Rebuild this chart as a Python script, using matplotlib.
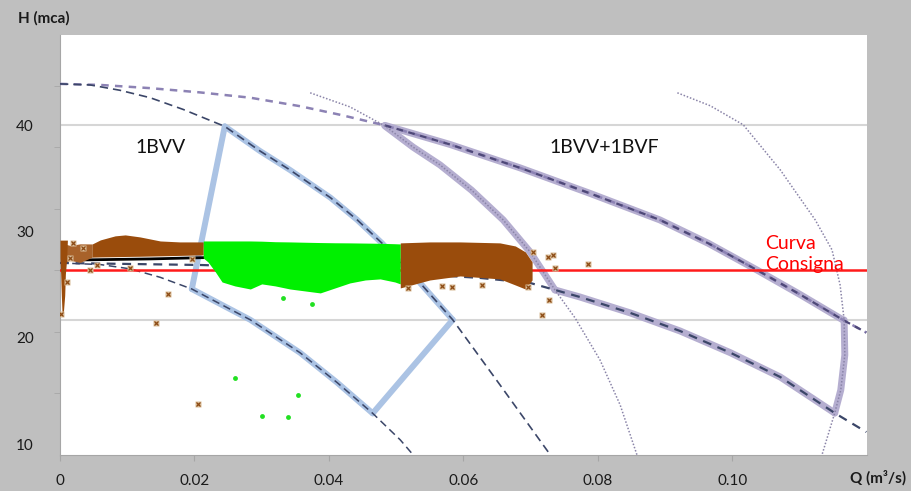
import matplotlib
matplotlib.use("Agg")
import matplotlib.pyplot as plt
import numpy as np

plt.rcParams['font.family'] = ['Lato', 'DejaVu Sans']

# ---------------- axes / ticks ----------------
x_ticks = [0, 0.02, 0.04, 0.06, 0.08, 0.10]
x_tick_labels = ["0", "0.02", "0.04", "0.06", "0.08", "0.10"]
y_ticks = [10, 20, 30, 40]
y_tick_labels = ["10", "20", "30", "40"]
y_minor_ticks = [43.73, 37.98, 32.14, 26.41, 20.57, 14.83]
h_limit_lines = [40.0, 21.7]

# ---------------- pump curves ----------------
# 1BVV at maximum speed
q_1bvv_max = [0.0, 0.0045, 0.0089, 0.0134, 0.0183, 0.0245, 0.0297, 0.0342, 0.0402, 0.0442, 0.0479, 0.0513, 0.0535, 0.0584, 0.0654, 0.0729]
h_1bvv_max = [43.9, 43.8, 43.3, 42.6, 41.5, 39.9, 37.6, 35.8, 33.2, 31.1, 28.9, 26.6, 25.2, 21.7, 15.6, 9.0]
# 1BVV at minimum speed
q_1bvv_min = [0.0, 0.006, 0.0104, 0.0149, 0.0196, 0.0283, 0.0357, 0.0412, 0.0465, 0.0506, 0.0525]
h_1bvv_min = [27.05, 26.9, 26.5, 25.7, 24.6, 21.7, 18.6, 15.8, 12.9, 10.4, 9.0]
# 1BVV+1BVF at maximum speed
q_2b_max = [0.0, 0.006, 0.0134, 0.0208, 0.0283, 0.0357, 0.0416, 0.0483, 0.058, 0.0684, 0.0788, 0.0892, 0.0964, 0.1036, 0.1100, 0.1164, 0.1199]
h_2b_max = [43.9, 43.8, 43.5, 43.1, 42.6, 41.8, 41.0, 40.0, 38.2, 36.0, 33.6, 31.1, 28.9, 26.4, 24.1, 21.7, 20.5]
# 1BVV+1BVF at minimum speed
q_2b_min = [0.0, 0.0208, 0.0357, 0.0506, 0.0625, 0.0699, 0.0736, 0.0773, 0.0848, 0.0922, 0.0997, 0.1071, 0.1152, 0.1199]
h_2b_min = [27.05, 26.86, 26.58, 26.11, 25.64, 25.17, 24.51, 23.85, 22.35, 20.65, 18.6, 16.32, 12.93, 11.14]
# dotted limit arcs
q_arc_left = [0.0372, 0.0431, 0.0483, 0.0525, 0.0565, 0.0612, 0.0659, 0.0699, 0.0736, 0.0766, 0.0803, 0.0833, 0.0858]
h_arc_left = [43.06, 41.74, 39.95, 37.95, 36.28, 33.9, 31.10, 28.09, 24.51, 21.87, 17.92, 13.68, 8.98]
q_arc_right = [0.0918, 0.0967, 0.1016, 0.1071, 0.1123, 0.1148, 0.1160, 0.1166, 0.1167, 0.1161, 0.1152, 0.1133]
h_arc_right = [43.06, 41.84, 40.05, 35.81, 31.10, 28.28, 24.98, 21.69, 18.39, 15.09, 12.93, 8.98]

# ---------------- set-point curve ----------------
q_consigna = [0.0, 0.12]
h_consigna = [26.4, 26.4]

# ---------------- measured data clouds ----------------
q_brown1 = [0.0048, 0.006, 0.0082, 0.0097, 0.0119, 0.0149, 0.0178, 0.0213]
h_brown1_top = [28.84, 29.22, 29.6, 29.69, 29.5, 29.12, 29.03, 29.03]
h_brown1_bot = [27.6, 27.62, 27.64, 27.66, 27.68, 27.72, 27.76, 27.81]

q_brown0 = [0.0003, 0.0015, 0.003, 0.0048]
h_brown0_top = [28.9, 28.7, 28.85, 28.84]
h_brown0_bot = [27.0, 27.3, 27.1, 27.6]

h_spike = [29.2, 27.5, 26.0, 24.0, 22.4]
q_spike_left = [0.0, 0.0, 0.0001, 0.0002, 0.0003]
q_spike_right = [0.0011, 0.0010, 0.0008, 0.0007, 0.0005]

q_green = [0.0213, 0.0220, 0.0231, 0.0241, 0.0260, 0.0283, 0.0300, 0.0320, 0.0342, 0.0364, 0.0387, 0.0409, 0.0431, 0.0454, 0.0476, 0.0498, 0.0506]
h_green_top = [29.12, 29.12, 29.12, 29.12, 29.12, 29.12, 29.10, 29.05, 29.03, 29.0, 28.97, 28.95, 28.94, 28.92, 28.9, 28.86, 28.84]
h_green_bot = [27.52, 27.15, 26.21, 25.26, 24.89, 24.60, 25.08, 24.89, 24.60, 24.42, 24.23, 24.70, 25.17, 25.45, 25.55, 25.26, 25.08]

q_brown2 = [0.0506, 0.0550, 0.0595, 0.0654, 0.0677, 0.0692, 0.0702]
h_brown2_top = [28.94, 29.03, 29.03, 28.94, 28.65, 28.09, 27.15]
h_brown2_bot = [24.70, 25.45, 25.83, 25.55, 24.98, 24.60, 25.45]

q_black = [0.0037, 0.0134, 0.0213]
h_black = [27.34, 27.43, 27.55]

q_brown_x = [0.00104, 0.00015, 0.01606, 0.01428, 0.02052, 0.00446, 0.01041, 0.00193, 0.00342, 0.00149, 0.0055,
             0.01963, 0.05175, 0.0568, 0.05829, 0.06275, 0.06959, 0.07033, 0.07257, 0.07331, 0.07361, 0.07851,
             0.07271, 0.07167]
h_brown_x = [25.26, 22.25, 24.13, 21.40, 13.78, 26.39, 26.58, 28.94, 28.47, 27.52, 26.86,
             27.43, 24.70, 24.89, 24.79, 24.98, 24.79, 28.09, 27.62, 27.81, 26.58, 26.96,
             23.57, 22.16]

q_green_pts = [0.0332, 0.0375, 0.0260, 0.0300, 0.0339, 0.0354]
h_green_pts = [23.76, 23.19, 16.22, 12.64, 12.55, 14.62]

# ---------------- colours ----------------
BG = "#bfbfbf"
NAVY = "#3b4668"
PURPLE_D = "#8c82b4"
PURPLE_T = "#b5aed0"
BLUE_T = "#abc3e4"
DOT = "#8a84a8"
BROWN = "#9a4c0c"
GREEN = "#00f000"
RED = "#ff1a1a"

fig = plt.figure(figsize=(9.12, 4.91), dpi=100, facecolor=BG)
ax = fig.add_axes([60 / 912, 36 / 491, 807 / 912, 420 / 491])
ax.set_facecolor("white")
ax.set_xlim(0, 0.12)
ax.set_ylim(8.98, 48.5)

for h in h_limit_lines:
    ax.axhline(h, color="#d6d6d6", lw=1.5, zorder=1)

A_q, A_h = np.array(q_1bvv_max), np.array(h_1bvv_max)
B_q, B_h = np.array(q_1bvv_min), np.array(h_1bvv_min)
C_q, C_h = np.array(q_2b_max), np.array(h_2b_max)
D_q, D_h = np.array(q_2b_min), np.array(h_2b_min)
E_q, E_h = np.array(q_arc_left), np.array(h_arc_left)
F_q, F_h = np.array(q_arc_right), np.array(h_arc_right)


def seg(q, h, q0, q1):
    m = (q >= min(q0, q1) - 1e-9) & (q <= max(q0, q1) + 1e-9)
    return q[m], h[m]


# operating envelope of 1BVV (blue)
blue_kw = dict(color=BLUE_T, lw=4.3, solid_capstyle="round", solid_joinstyle="round", zorder=2)
ax.plot(*seg(A_q, A_h, 0.0245, 0.0584), **blue_kw)
ax.plot(*seg(B_q, B_h, 0.0196, 0.0465), **blue_kw)
ax.plot([0.0245, 0.0196], [39.9, 24.6], **blue_kw)
ax.plot([0.0465, 0.0584], [12.9, 21.7], **blue_kw)

# operating envelope of 1BVV+1BVF (purple)
purp_kw = dict(color=PURPLE_T, lw=5, solid_capstyle="round", solid_joinstyle="round", zorder=2)
ax.plot(*seg(C_q, C_h, 0.0483, 0.1164), **purp_kw)
ax.plot(*seg(E_q, E_h, 0.0483, 0.0736), **purp_kw)
ax.plot(*seg(D_q, D_h, 0.0736, 0.1152), **purp_kw)
m = (F_h >= 12.9) & (F_h <= 21.7)
ax.plot(F_q[m], F_h[m], **purp_kw)

# curves
ax.plot(C_q, C_h, color=PURPLE_D, lw=1.8, ls=(0, (3, 2.5)), zorder=3)
qc, hc = seg(C_q, C_h, 0.0483, 0.1199)
ax.plot(qc, hc, color="#4e4878", lw=1.6, ls=(0, (3, 2.5)), zorder=3)
ax.plot(A_q, A_h, color=NAVY, lw=1.2, ls=(0, (5, 3)), zorder=3)
ax.plot(B_q, B_h, color=NAVY, lw=1.1, ls=(0, (5, 3)), zorder=3)
ax.plot(D_q, D_h, color=NAVY, lw=1.6, ls=(0, (4, 3)), zorder=3)
ax.plot(E_q, E_h, color=DOT, lw=1.1, ls=(0, (1, 1.2)), zorder=3)
ax.plot(F_q, F_h, color=DOT, lw=1.1, ls=(0, (1, 1.2)), zorder=3)

# set-point line
ax.plot(q_consigna, h_consigna, color=RED, lw=1.8, zorder=4)

# data clouds
ax.plot(q_black, h_black, color="black", lw=2.0, zorder=5)
ax.fill_between(q_brown0, h_brown0_bot, h_brown0_top, color="#a8622a", lw=0, zorder=6)
ax.fill_betweenx(h_spike, q_spike_left, q_spike_right, color=BROWN, lw=0, zorder=6)
ax.fill_between(q_brown1, h_brown1_bot, h_brown1_top, color=BROWN, lw=0, zorder=6)
ax.fill_between(q_green, h_green_bot, h_green_top, color=GREEN, lw=0, zorder=6)
ax.fill_between(q_brown2, h_brown2_bot, h_brown2_top, color=BROWN, lw=0, zorder=6)

ax.plot(q_brown_x, h_brown_x, ls="none", marker="s", ms=4.5, mfc="#d9bc98", mec="none", zorder=7)
ax.plot(q_brown_x, h_brown_x, ls="none", marker="x", ms=3.2, mew=0.9, color="#8b4a14", zorder=8)
ax.plot(q_green_pts, h_green_pts, ls="none", marker="o", ms=3.5, color="#22e022", mec="none", zorder=7)

# annotations
ax.text(0.0149, 37.88, "1BVV", fontsize=14, ha="center", va="center", color="#111111", zorder=9)
ax.text(0.0810, 37.88, "1BVV+1BVF", fontsize=14, ha="center", va="center", color="#111111", zorder=9)
ax.text(0.1048, 28.85, "Curva", fontsize=14, ha="left", va="center", color="#ff0000", zorder=9)
ax.text(0.1048, 26.95, "Consigna", fontsize=14, ha="left", va="center", color="#ff0000", zorder=9)

# axes styling
for s in ["top", "right"]:
    ax.spines[s].set_visible(False)
for s in ["left", "bottom"]:
    ax.spines[s].set_color("#a6a6a6")
    ax.spines[s].set_linewidth(0.8)

ax.set_xticks(x_ticks)
ax.set_xticklabels(x_tick_labels)
ax.set_yticks(y_ticks)
ax.set_yticklabels(y_tick_labels)
ax.set_yticks(y_minor_ticks, minor=True)
ax.tick_params(axis="x", which="major", direction="out", length=4, color="#a6a6a6",
               pad=10, labelsize=11, labelcolor="#1a1a1a")
ax.tick_params(axis="y", which="major", length=0, pad=19, labelsize=11, labelcolor="#1a1a1a")
ax.tick_params(axis="y", which="minor", direction="out", length=4, color="#a6a6a6")

fig.text(18 / 912, 1 - 18 / 491, "H (mca)", fontsize=11, fontweight="bold", ha="left", va="center", color="#1a1a1a")
fig.text(850 / 912, 1 - 478 / 491, "Q (m³/s)", fontsize=11, fontweight="bold", ha="left", va="center", color="#1a1a1a")

fig.savefig("out.png", dpi=100, facecolor=BG)
